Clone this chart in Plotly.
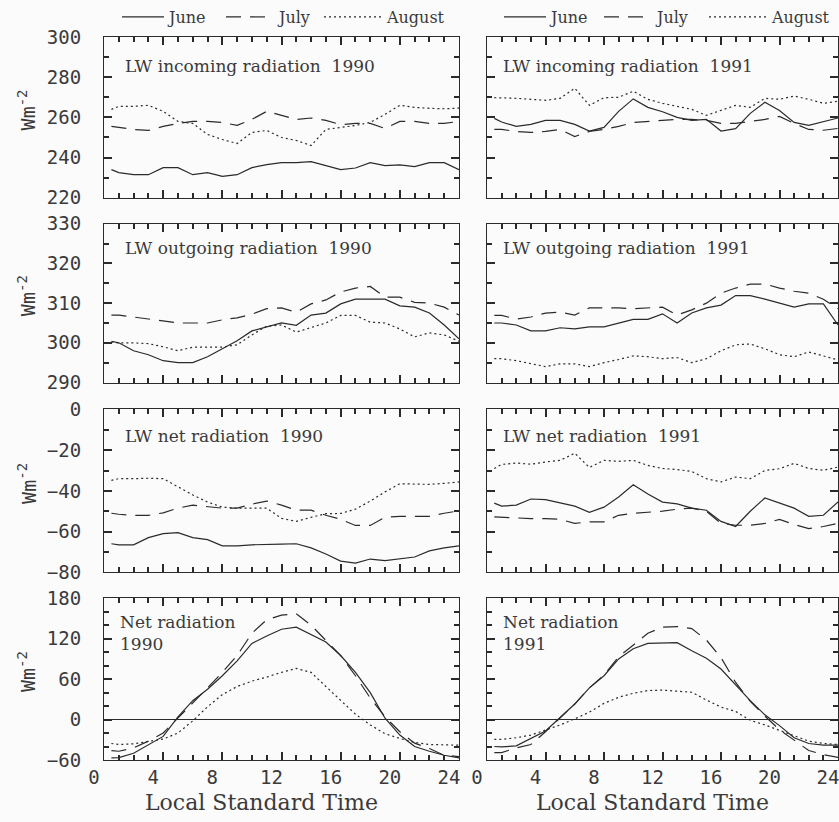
import plotly.graph_objects as go

# ---------------- data ----------------
HOURS = [0.5, 1, 2, 3, 4, 5, 6, 7, 8, 9, 10, 11, 12, 13, 14, 15, 16, 17, 18, 19, 20, 21, 22, 23, 24]
MONTHS = ["June", "July", "August"]
YEARS = ["1990", "1991"]
X_TICKS = [0, 4, 8, 12, 16, 20, 24]

LW_IN_1990_JUNE = [234, 232.5, 231.5, 231.5, 235, 235, 231.5, 232.5, 230.7, 231.5, 235, 236.5, 237.5,
                   237.5, 238, 236, 234, 234.8, 237.5, 236, 236.4, 235.5, 237.5, 237.5, 234]
LW_IN_1990_JULY = [255.5, 255, 254, 253.5, 255.5, 257, 258, 258, 257.5, 256, 259, 263, 261,
                   259, 259.7, 258.5, 256.4, 257, 257, 254.5, 258, 258, 257, 257, 258]
LW_IN_1990_AUG = [264, 265.5, 265.5, 266, 263, 258, 257, 251.5, 249, 247, 252.5, 253.5, 250,
                  248.5, 246, 254, 255, 256, 257.5, 261.5, 266, 265, 264.5, 264.3, 264.6]
LW_IN_1991_JUNE = [259.5, 257.7, 255.5, 256.5, 258.5, 258.5, 256.5, 253.2, 255, 263, 269.2, 265, 262.8,
                   260, 258.5, 259, 253.2, 254.4, 262, 267.5, 263.4, 257.5, 256, 258, 259.7]
LW_IN_1991_JULY = [254, 254, 253, 252.5, 253, 254, 250.5, 253, 254, 255.5, 257.5, 258, 258.5,
                   259, 259, 258.5, 257, 257, 258, 259, 260.5, 257, 254, 253.6, 254.5]
LW_IN_1991_AUG = [269.8, 269.8, 269.5, 269, 268.5, 269.5, 274.5, 266, 269.8, 270, 273, 269, 267,
                  265.5, 264, 261, 263.5, 266, 265, 269.5, 269, 270.6, 269, 267, 268]

LW_OUT_1990_JUNE = [300.4, 300, 298, 297, 295.5, 295, 295, 296.5, 298.5, 300.5, 303, 304, 305,
                    304.4, 307, 307.5, 309.8, 311, 311, 311, 309.3, 309, 307.5, 304.5, 301]
LW_OUT_1990_JULY = [307, 307, 306.5, 306, 305.5, 305, 305, 305, 305.8, 306.3, 307.2, 308.6, 308.8,
                    307.7, 309.8, 310.8, 312.8, 313.8, 314.2, 311.5, 311.5, 310.2, 310, 309, 307]
LW_OUT_1990_AUG = [300.2, 300, 300, 299.8, 299, 298, 298.9, 298.9, 298.9, 299.5, 302, 304.2, 304.5,
                   302.7, 303.9, 305, 306.9, 306.9, 305.2, 305, 303.5, 301.5, 302.5, 302, 300.4]
LW_OUT_1991_JUNE = [305, 305, 304.5, 303, 303, 303.8, 303.5, 304, 304, 305, 305.9, 305.9, 307.3,
                    305, 307.5, 308.8, 309.5, 311.9, 311.9, 311, 310, 309, 309.8, 309.8, 304.5]
LW_OUT_1991_JULY = [306.9, 306.9, 306, 306.5, 307.5, 307.7, 307, 308.8, 308.8, 308.8, 308.6, 308.8, 309,
                    307, 308.3, 310, 312.5, 313.8, 314.8, 314.8, 313.8, 313, 312.5, 311, 308.6]
LW_OUT_1991_AUG = [296, 296, 295.5, 294.7, 294, 294.7, 294.7, 294, 295, 295.8, 296.7, 296.5, 296,
                   296.3, 295, 296, 298, 299.5, 299.7, 298.5, 297, 296.5, 297.7, 296.7, 295.7]

LW_NET_1990_JUNE = [-66, -66.5, -66.5, -63, -61, -60.5, -63, -64, -67, -67, -66.5, -66.5, -66.2,
                    -66, -68, -71, -74.5, -75.5, -73.5, -74.3, -73.3, -72.5, -69.5, -68, -67]
LW_NET_1990_JULY = [-51, -51.5, -52, -52, -50.8, -48.5, -47, -47.7, -48.5, -48.5, -46.5, -45, -47,
                    -49.5, -49.5, -52, -54, -57, -57, -53, -52.5, -52.5, -52.5, -51, -49.8]
LW_NET_1990_AUG = [-34.8, -34, -34, -33.8, -34, -38, -42, -45.5, -48, -48.5, -48.5, -48.5, -53.5,
                   -55, -53, -51.2, -51.1, -49, -45, -40.5, -36.5, -36.5, -36.8, -36.3, -35.6]
LW_NET_1991_JUNE = [-46, -47.5, -47, -44, -44.3, -46, -47.5, -50.5, -48, -43, -37, -41.5, -45.5,
                    -46.4, -48.5, -49.5, -55, -57.5, -50, -43.5, -46, -48.5, -52.5, -52, -45.4]
LW_NET_1991_JULY = [-52.8, -53, -53.5, -53.6, -53.6, -54, -56, -55.2, -55.2, -52, -51, -50.5, -50,
                    -49, -48.5, -50, -56, -56.9, -56.9, -56, -54, -56.5, -58.5, -57.5, -56]
LW_NET_1991_AUG = [-29, -27, -26.3, -26.9, -25.8, -25, -21.5, -28.5, -25, -25.5, -25, -27.5, -29,
                   -29.5, -30.5, -34, -35.6, -33.2, -34, -30, -29.1, -26.5, -29, -29.9, -28.3]

NET_1990_JUNE = [-57, -56.5, -50, -38, -25, 4, 28, 45, 65, 87, 113, 124, 134,
                 137, 126, 115, 95, 70, 40, 2, -23, -40, -47, -53, -57]
NET_1990_JULY = [-46, -47, -42, -32, -20, 2, 25, 47, 70, 95, 128, 148, 155,
                 157, 140, 118, 95, 65, 32, 4, -18, -35, -43, -53, -55]
NET_1990_AUG = [-35.5, -37, -36, -32, -29, -20, -2, 19, 37, 49, 57, 63, 70,
                75.8, 70, 49, 28, 8, -8, -21, -28, -34, -37, -37.8, -38]
NET_1991_JUNE = [-40, -40.5, -39, -28, -17, 3, 23, 47, 65, 90, 105, 113, 113,
                 114, 102, 91, 75, 51, 28, 7, -9, -27, -35.5, -37.8, -37.8]
NET_1991_JULY = [-49, -49, -42, -37, -18, 3, 23, 47, 66, 93, 110, 128, 137,
                 138, 135, 118, 92, 55, 27, 5, -15, -30, -46, -52, -56]
NET_1991_AUG = [-29.4, -29.4, -27, -23, -15.6, -8, 1, 11, 24, 33, 39, 43, 43.7,
                42.5, 40.5, 29, 18.5, 12, -1, -8, -16, -25, -32, -35.5, -37]

PANEL_TITLES = [
    ["LW incoming radiation\u00a0 1990", "LW incoming radiation\u00a0 1991"],
    ["LW outgoing radiation\u00a0 1990", "LW outgoing radiation\u00a0 1991"],
    ["LW net radiation\u00a0 1990", "LW net radiation\u00a0 1991"],
    ["Net radiation<br>1990", "Net radiation<br>1991"],
]

SERIES = [
    [[LW_IN_1990_JUNE, LW_IN_1990_JULY, LW_IN_1990_AUG], [LW_IN_1991_JUNE, LW_IN_1991_JULY, LW_IN_1991_AUG]],
    [[LW_OUT_1990_JUNE, LW_OUT_1990_JULY, LW_OUT_1990_AUG], [LW_OUT_1991_JUNE, LW_OUT_1991_JULY, LW_OUT_1991_AUG]],
    [[LW_NET_1990_JUNE, LW_NET_1990_JULY, LW_NET_1990_AUG], [LW_NET_1991_JUNE, LW_NET_1991_JULY, LW_NET_1991_AUG]],
    [[NET_1990_JUNE, NET_1990_JULY, NET_1990_AUG], [NET_1991_JUNE, NET_1991_JULY, NET_1991_AUG]],
]

Y_RANGES = [[220, 300], [290, 330], [-80, 0], [-60, 180]]
Y_DTICK = [20, 10, 20, 60]
Y_MINOR = [10, 5, 10, 20]

W, H = 839, 822
ML, MR, MT, MB = 104, 1, 36, 62
PW = W - ML - MR
PH = H - MT - MB

def px_x(p):
    return (p - ML) / PW

def px_y(p):
    return (H - MB - p) / PH

X_DOM = [[px_x(104), px_x(459)], [px_x(487), px_x(838)]]
ROW_PX = [(36, 197), (223, 382), (409, 572), (598, 760)]
Y_DOM = [[px_y(b), px_y(t)] for (t, b) in ROW_PX]
TITLE_DY = [29, 25, 26]   # px below panel top for single-line titles

INK = "#2b2b2b"
TXT = "#3a3a3a"
DASHES = ["solid", "15px,9px", "2px,3px"]
LEGEND_X = [[117, 221, 319], [499, 599, 704]]
LEGEND_W = [42, 48, 58]

fig = go.Figure()
annotations = []
layout = {}

for r in range(4):
    for c in range(2):
        i = r * 2 + c + 1
        xs = "" if i == 1 else str(i)
        for m in range(3):
            lg = c * 3 + m + 1
            fig.add_trace(go.Scatter(
                x=HOURS, y=SERIES[r][c][m], mode="lines",
                xaxis="x" + xs, yaxis="y" + xs,
                line=dict(color=INK, width=1.2, dash=DASHES[m]),
                name=MONTHS[m],
                legend="legend" if lg == 1 else "legend%d" % lg,
                showlegend=(r == 0),
            ))
        layout["xaxis" + xs] = dict(
            domain=X_DOM[c], anchor="y" + xs, range=[0, 24],
            showline=True, linecolor=INK, linewidth=1, mirror="ticks",
            ticks="inside", ticklen=8, tickwidth=1.5, tickcolor=INK,
            tickmode="array", tickvals=X_TICKS, ticktext=[str(v) for v in X_TICKS],
            minor=dict(dtick=1, ticks="inside", ticklen=5, tickcolor=INK, tickwidth=1.5, showgrid=False),
            showgrid=False, zeroline=False,
            showticklabels=(r == 3),
            tickfont=dict(family="DejaVu Sans Mono", size=19, color=TXT),
            ticklabelshift=-10, ticklabeloverflow="allow",
        )
        layout["yaxis" + xs] = dict(
            domain=Y_DOM[r], anchor="x" + xs, range=Y_RANGES[r],
            showline=True, linecolor=INK, linewidth=1, mirror="ticks",
            ticks="inside", ticklen=8, tickwidth=1.5, tickcolor=INK,
            dtick=Y_DTICK[r], tick0=0,
            minor=dict(dtick=Y_MINOR[r], ticks="inside", ticklen=5, tickcolor=INK, tickwidth=1.5, showgrid=False),
            showgrid=False,
            zeroline=(r == 3), zerolinecolor=INK, zerolinewidth=1,
            showticklabels=(c == 0),
            tickfont=dict(family="DejaVu Sans Mono", size=19, color=TXT),
            ticklabelstandoff=18,
        )
        annotations.append(dict(
            text=PANEL_TITLES[r][c], xref="x" + xs + " domain", yref="y" + xs + " domain",
            x=(19 if (c == 0 and r < 3) else 14) / 355,
            y=1 - (TITLE_DY[r] / 161 if r < 3 else 35 / 162),
            xanchor="left", yanchor="middle", align="left", showarrow=False,
            font=dict(family="DejaVu Serif", size=17, color=TXT),
        ))

for r in range(4):
    t, b = ROW_PX[r]
    annotations.append(dict(
        text="Wm<sup>-2</sup>", xref="paper", yref="paper",
        x=px_x(27), y=px_y((t + b) / 2 - 7), xanchor="center", yanchor="middle",
        textangle=-90, showarrow=False,
        font=dict(family="DejaVu Sans Mono", size=20, color=TXT),
    ))

XTITLE_PX = [261, 652]
for c in range(2):
    annotations.append(dict(
        text="Local Standard Time", xref="paper", yref="paper",
        x=px_x(XTITLE_PX[c]), y=px_y(803), xanchor="center", yanchor="middle",
        showarrow=False, font=dict(family="DejaVu Serif", size=22, color=TXT),
    ))

legends = {}
for c in range(2):
    for m in range(3):
        lg = c * 3 + m + 1
        legends["legend" if lg == 1 else "legend%d" % lg] = dict(
            x=px_x(LEGEND_X[c][m]), y=px_y(0),
            orientation="h", yanchor="top", xanchor="left",
            bgcolor="rgba(0,0,0,0)", borderwidth=0,
            font=dict(family="DejaVu Serif", size=16, color=TXT),
            itemwidth=LEGEND_W[m],
        )

fig.update_layout(
    width=W, height=H,
    margin=dict(l=ML, r=MR, t=MT, b=MB),
    paper_bgcolor="#fbfbfb", plot_bgcolor="#fbfbfb",
    annotations=annotations,
    **legends,
    **layout,
)

fig.write_html("out.html")
